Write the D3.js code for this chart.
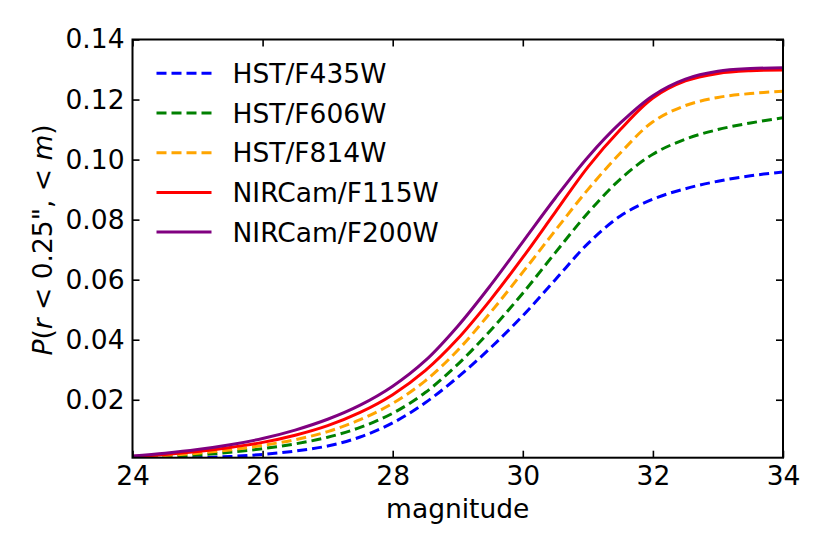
<!DOCTYPE html>
<html>
<head>
<meta charset="utf-8">
<script src="https://cdn.jsdelivr.net/npm/d3@7"></script>
<style>
  body { margin: 0; background: #fff; }
  text { font-family: "DejaVu Sans", sans-serif; fill: #000; }
</style>
</head>
<body>
<script>
var magnitudes = [24, 24.5, 25, 25.5, 26, 26.5, 27, 27.5, 28, 28.5, 29, 29.5, 30, 30.5, 31, 31.5, 32, 32.5, 33, 33.5, 34];

var f435w = [0.0002, 0.0004, 0.0007, 0.0011, 0.0018, 0.0029, 0.0046, 0.0076, 0.0123, 0.0190, 0.0275, 0.0372, 0.0480, 0.0600, 0.0720, 0.0812, 0.0868, 0.0903, 0.0928, 0.0946, 0.0959];
var f606w = [0.0006, 0.0010, 0.0016, 0.0025, 0.0037, 0.0053, 0.0075, 0.0108, 0.0155, 0.0224, 0.0318, 0.0430, 0.0555, 0.0690, 0.0822, 0.0935, 0.1018, 0.1068, 0.1100, 0.1122, 0.1139];
var f814w = [0.0008, 0.0014, 0.0022, 0.0033, 0.0048, 0.0067, 0.0094, 0.0134, 0.0188, 0.0263, 0.0365, 0.0490, 0.0625, 0.0764, 0.0900, 0.1022, 0.1126, 0.1180, 0.1207, 0.1220, 0.1228];
var f115w = [0.0011, 0.0018, 0.0028, 0.0041, 0.0058, 0.0082, 0.0114, 0.0158, 0.0217, 0.0297, 0.0403, 0.0532, 0.0674, 0.0825, 0.0975, 0.1100, 0.1205, 0.1262, 0.1287, 0.1296, 0.1298];
var f200w = [0.0013, 0.0022, 0.0034, 0.0050, 0.0071, 0.0099, 0.0135, 0.0182, 0.0245, 0.0330, 0.0445, 0.0580, 0.0726, 0.0872, 0.1008, 0.1122, 0.1213, 0.1268, 0.1294, 0.1303, 0.1306];

var seriesNames = ["HST/F435W", "HST/F606W", "HST/F814W", "NIRCam/F115W", "NIRCam/F200W"];
var seriesColors = ["blue", "green", "orange", "red", "purple"];
var seriesDashed = [true, true, true, false, false];
var seriesValues = [f435w, f606w, f814w, f115w, f200w];

var xTicks = [24, 26, 28, 30, 32, 34];
var yTicks = [0.02, 0.04, 0.06, 0.08, 0.10, 0.12, 0.14];

// plot box in pixels
var margin = {top: 39.5, right: 47, bottom: 96.3, left: 132.5},
	totalWidth = 830,
	totalHeight = 554,
	dataWidth = totalWidth - margin.left - margin.right,
	dataHeight = totalHeight - margin.top - margin.bottom;

var xScale = d3.scaleLinear().domain([24, 34]).range([0, dataWidth]);
var yScale = d3.scaleLinear().domain([0.0007, 0.14]).range([dataHeight, 0]);

var svg = d3.select("body").append("svg")
	.attr("width", totalWidth)
	.attr("height", totalHeight);

var g = svg.append("g")
	.attr("transform", "translate(" + margin.left + "," + margin.top + ")");

g.append("clipPath").attr("id", "clip")
	.append("rect").attr("width", dataWidth).attr("height", dataHeight);

// curves
var line = d3.line()
	.x(function(d){ return xScale(d[0]); })
	.y(function(d){ return yScale(d[1]); })
	.curve(d3.curveCatmullRom.alpha(0.5));

var series = seriesNames.map(function(name, i){
	return {
		name: name,
		color: seriesColors[i],
		dashed: seriesDashed[i],
		points: magnitudes.map(function(m, j){ return [m, seriesValues[i][j]]; })
	};
});

g.append("g").attr("clip-path", "url(#clip)")
	.selectAll("path")
	.data(series)
	.enter().append("path")
	.attr("d", function(s){ return line(s.points); })
	.style("fill", "none")
	.style("stroke", function(s){ return s.color; })
	.style("stroke-width", 3)
	.style("stroke-dasharray", function(s){ return s.dashed ? "10,5" : null; });

// axes, ticks pointing in
var fontSize = 26.5;
function styleAxis(sel) {
	sel.select(".domain").remove();
	sel.selectAll(".tick line").style("stroke", "#000").style("stroke-width", 1.6);
	sel.selectAll(".tick text").style("font-size", fontSize + "px").style("font-family", "DejaVu Sans");
}

g.append("g")
	.attr("transform", "translate(0," + dataHeight + ")")
	.call(d3.axisBottom(xScale).tickValues(xTicks).tickSizeInner(-7).tickSizeOuter(0).tickPadding(8).tickFormat(d3.format("d")))
	.call(styleAxis);

g.append("g")
	.call(d3.axisTop(xScale).tickValues(xTicks).tickSizeInner(-7).tickSizeOuter(0).tickFormat(""))
	.call(styleAxis);

g.append("g")
	.call(d3.axisLeft(yScale).tickValues(yTicks).tickSizeInner(-7).tickSizeOuter(0).tickPadding(8).tickFormat(d3.format(".2f")))
	.call(styleAxis);

g.append("g")
	.attr("transform", "translate(" + dataWidth + ",0)")
	.call(d3.axisRight(yScale).tickValues(yTicks).tickSizeInner(-7).tickSizeOuter(0).tickFormat(""))
	.call(styleAxis);

// frame
g.append("rect")
	.attr("width", dataWidth)
	.attr("height", dataHeight)
	.style("fill", "none")
	.style("stroke", "#000")
	.style("stroke-width", 2);

// axis labels
svg.append("text")
	.attr("x", margin.left + dataWidth / 2)
	.attr("y", 518)
	.attr("text-anchor", "middle")
	.style("font-size", fontSize + "px")
	.text("magnitude");

var ylab = svg.append("text")
	.attr("transform", "translate(52,240) rotate(-90)")
	.attr("text-anchor", "middle")
	.style("font-size", fontSize + "px");
ylab.append("tspan").style("font-style", "italic").text("P");
ylab.append("tspan").text("(");
ylab.append("tspan").style("font-style", "italic").text("r");
ylab.append("tspan").text(" < 0.25\", < ");
ylab.append("tspan").style("font-style", "italic").text("m");
ylab.append("tspan").text(")");

// legend
var legend = g.append("g")
	.selectAll("g")
	.data(series)
	.enter().append("g")
	.attr("transform", function(s, i){ return "translate(24," + (33.8 + i * 39.7) + ")"; });

legend.append("line")
	.attr("x1", 0).attr("x2", 55)
	.style("stroke", function(s){ return s.color; })
	.style("stroke-width", 3)
	.style("stroke-dasharray", function(s){ return s.dashed ? "10,5" : null; });

legend.append("text")
	.attr("x", 76)
	.attr("dy", "0.36em")
	.style("font-size", fontSize + "px")
	.text(function(s){ return s.name; });
</script>
</body>
</html>
